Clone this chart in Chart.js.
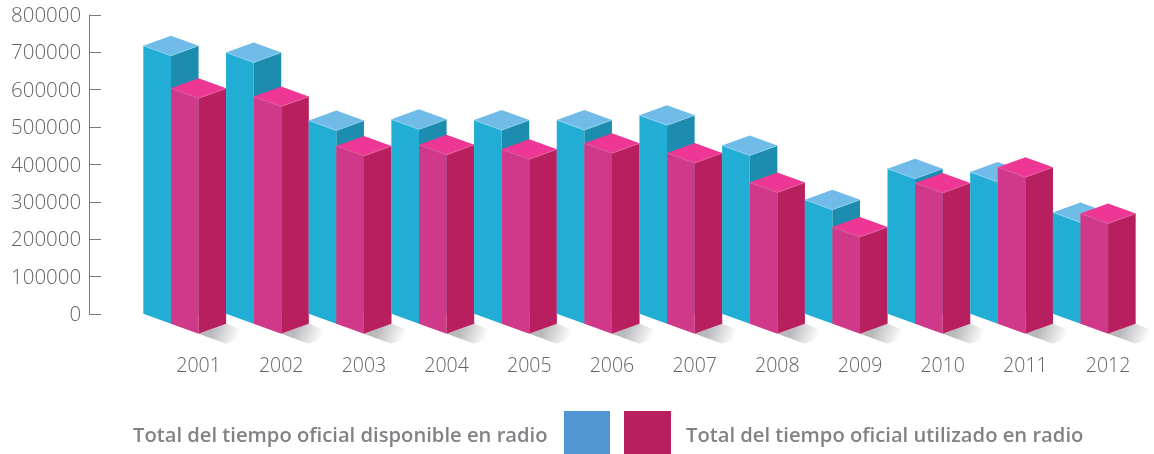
<!DOCTYPE html>
<html>
<head>
<meta charset="utf-8">
<style>
  html, body { margin: 0; padding: 0; background: #fff; }
  canvas { display: block; }
</style>
<script src="https://cdn.jsdelivr.net/npm/chart.js@4/dist/chart.umd.js"></script>
</head>
<body>
<canvas id="myChart" width="1154" height="454"></canvas>
<script>
"use strict";
const years = ["2001", "2002", "2003", "2004", "2005", "2006", "2007", "2008", "2009", "2010", "2011", "2012"];
const disponible = [717000, 699000, 517000, 520000, 518000, 518000, 531000, 450000, 305000, 388000, 379000, 271000];
const utilizado = [603000, 581000, 449000, 452000, 440000, 456000, 430000, 351000, 232000, 350000, 392000, 268000];
const serieDisponible = "Total del tiempo oficial disponible en radio";
const serieUtilizado = "Total del tiempo oficial utilizado en radio";

const halfW = 27.6;   // width of one face of a prism
const rise = 10;      // how far a face climbs in the isometric view
const textGray = "#636466";
const blue = { front: "#22aed4", side: "#1c8dae", top: "#70bbe8", edge: "#8fd4ec" };
const pink = { front: "#d0398a", side: "#b81f5e", top: "#ee3694", edge: "#e0669f" };

function poly(ctx, pts, fill) {
    ctx.beginPath();
    pts.forEach((p, i) => i ? ctx.lineTo(p[0], p[1]) : ctx.moveTo(p[0], p[1]));
    ctx.closePath();
    ctx.fillStyle = fill;
    ctx.fill();
}

// left = left corner x, top = y of left top corner, base = y of left bottom corner
function prism(ctx, left, top, base, c) {
    const mid = left + halfW, right = left + 2 * halfW;
    poly(ctx, [[left, top], [mid, top + rise], [mid, base + rise], [left, base]], c.front);
    poly(ctx, [[mid, top + rise], [right, top], [right, base], [mid, base + rise]], c.side);
    poly(ctx, [[left, top], [mid, top - rise], [right, top], [mid, top + rise]], c.top);
    ctx.strokeStyle = c.edge;
    ctx.lineWidth = 0.8;
    ctx.beginPath();
    ctx.moveTo(left, top);
    ctx.lineTo(mid, top + rise);
    ctx.lineTo(right, top);
    ctx.stroke();
}

function shadow(ctx, x, y) {
    // x,y = front bottom corner of the pink prism
    const g = ctx.createLinearGradient(x + 14, y - 5, x + 40, y + 5);
    g.addColorStop(0, "#b8b9bb");
    g.addColorStop(1, "#ffffff");
    poly(ctx, [[x, y], [x + halfW, y - rise], [x + 53, y], [x + halfW, y + rise]], g);
}

const isoBars = {
    id: "isoBars",
    afterDatasetsDraw(chart) {
        const ctx = chart.ctx;
        const a = chart.getDatasetMeta(0).data;
        const b = chart.getDatasetMeta(1).data;
        ctx.save();
        b.forEach(bar => shadow(ctx, bar.x, bar.base + 2 * rise));
        a.forEach((bar, i) => {
            const left = bar.x - 2 * halfW;
            prism(ctx, left, bar.y, bar.base, blue);
            prism(ctx, left + halfW, b[i].y, b[i].base + rise, pink);
        });
        ctx.restore();
    }
};

// axis line sits away from the plot, tick marks point to the bars
const axisLine = {
    id: "axisLine",
    afterDraw(chart) {
        const ctx = chart.ctx;
        const y = chart.scales.y;
        ctx.save();
        ctx.strokeStyle = "#77787b";
        ctx.lineWidth = 1;
        ctx.beginPath();
        ctx.moveTo(89.5, y.getPixelForValue(800000));
        ctx.lineTo(89.5, y.getPixelForValue(0));
        y.ticks.forEach(t => {
            const py = Math.round(y.getPixelForValue(t.value)) + 0.5;
            ctx.moveTo(89, py);
            ctx.lineTo(101, py);
        });
        ctx.stroke();
        ctx.restore();
    }
};

const legendRow = {
    id: "legendRow",
    afterDraw(chart) {
        const ctx = chart.ctx;
        ctx.save();
        ctx.fillStyle = "#5195d3";
        ctx.fillRect(564, 411, 46, 43);
        ctx.fillStyle = "#b81f5e";
        ctx.fillRect(624, 411, 47, 43);
        ctx.font = "600 20.2px 'Open Sans'";
        ctx.fillStyle = "#808285";
        ctx.textBaseline = "alphabetic";
        ctx.fillText(serieDisponible, 133, 442);
        ctx.fillText(serieUtilizado, 686, 442);
        ctx.restore();
    }
};

// big tick padding moves the labels, it must not shrink the plot
function noMargins(s) {
    s.paddingTop = 0;
    s.paddingBottom = 0;
    s.paddingLeft = 0;
    s.paddingRight = 0;
}

new Chart(document.getElementById("myChart"), {
    type: "bar",
    data: {
        labels: years,
        datasets: [
            { label: serieDisponible, data: disponible, backgroundColor: "transparent" },
            { label: serieUtilizado, data: utilizado, backgroundColor: "transparent" }
        ]
    },
    plugins: [isoBars, axisLine, legendRow],
    options: {
        responsive: false,
        animation: false,
        grouped: false,
        layout: { padding: { left: 0, right: 4.6, top: 14.7, bottom: 0 } },
        plugins: { legend: { display: false }, tooltip: { enabled: false } },
        scales: {
            x: {
                grid: { display: false },
                border: { display: false },
                afterFit: (s) => { s.height = 140.3; noMargins(s); },
                ticks: {
                    color: textGray,
                    padding: 33,
                    autoSkip: false,
                    maxRotation: 0,
                    font: { family: "'Open Sans'", size: 19.5, weight: "300" }
                }
            },
            y: {
                min: 0,
                max: 800000,
                afterFit: (s) => { s.width = 157.2; noMargins(s); },
                grid: { display: false, drawTicks: false },
                border: { display: false },
                ticks: {
                    stepSize: 100000,
                    color: textGray,
                    padding: 76,
                    labelOffset: 1.5,
                    callback: (v) => String(v),
                    font: { family: "'Open Sans'", size: 20.5, weight: "300" }
                }
            }
        }
    }
});
</script>
</body>
</html>
